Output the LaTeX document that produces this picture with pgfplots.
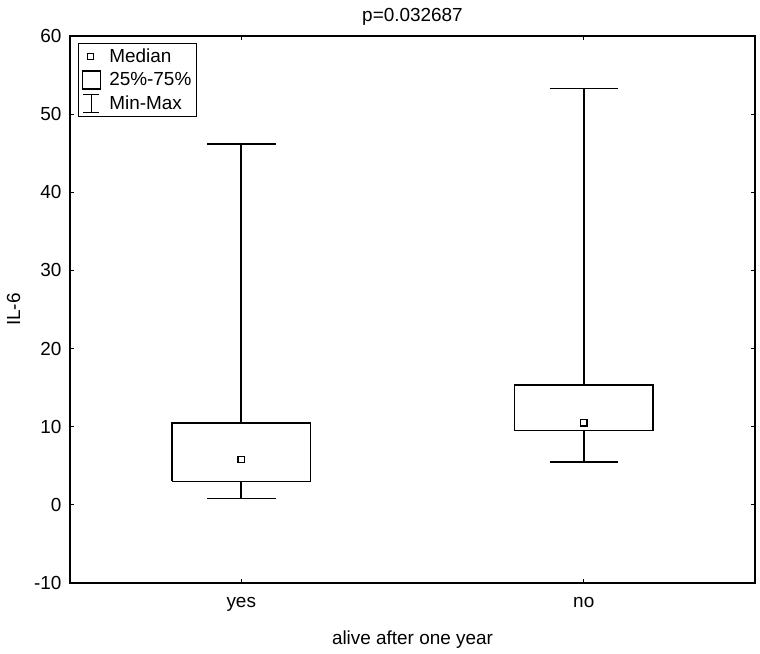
\documentclass[border=0pt]{standalone}
\usepackage{fontspec}
\setmainfont{Liberation Sans}
\usepackage{pgfplots}
\pgfplotsset{compat=1.18}

\newcommand{\fs}{\fontsize{19}{22}\selectfont}

\begin{document}
\begin{tikzpicture}
\path[use as bounding box] (-70bp,-71bp) rectangle (690bp,583bp);
\begin{axis}[
  at={(0,0)}, anchor=south west,
  scale only axis,
  width=685bp, height=547bp,
  xmin=0.5, xmax=2.5,
  ymin=-10, ymax=60,
  xtick={1,2}, xticklabels={yes,no},
  ytick={-10,0,10,20,30,40,50,60},
  tick align=inside,
  major tick length=4bp,
  tick style={black, line width=1.2bp},
  axis line style={black, line width=1.6bp},
  /pgf/number format/assume math mode=true,
  tick label style={font=\fs},
  label style={font=\fs},
  title style={font=\fs, yshift=1bp},
  title={p=0.032687},
  xlabel={alive after one year},
  ylabel={IL-6},
  xlabel style={yshift=-12bp},
  ylabel style={yshift=7bp},
  xticklabel style={yshift=-11bp},
  yticklabel style={xshift=-5bp},
  legend style={at={(rel axis cs:0,1)}, anchor=north west, xshift=8bp, yshift=-7bp,
    draw=black, line width=1.4bp, font=\fs, row sep=4.5bp, inner sep=3bp},
  legend cell align=left,
  every axis plot/.append style={black, line width=1.6bp},
]
\addlegendimage{legend image code/.code={\path (0bp,0bp) (24bp,0bp); \draw[black,line width=1.3bp] (5bp,-3bp) rectangle (11bp,3bp);}}
\addlegendentry{Median}
\addlegendimage{legend image code/.code={\path (0bp,0bp) (24bp,0bp); \draw[black,line width=1.3bp] (0bp,-9bp) rectangle (18bp,9bp);}}
\addlegendentry{25\%-75\%}
\addlegendimage{legend image code/.code={\path (0bp,0bp) (24bp,0bp); \draw[black,line width=1.3bp] (9bp,-9bp) -- (9bp,9bp) (1bp,9bp) -- (17bp,9bp) (1bp,-9bp) -- (17bp,-9bp);}}
\addlegendentry{Min-Max}

% yes: min 0.8, q1 3.0, median 5.8, q3 10.5, max 46.2
\addplot[forget plot] coordinates {(0.7975,3.0) (1.2025,3.0) (1.2025,10.5) (0.7975,10.5) (0.7975,3.0)};
\addplot[forget plot] coordinates {(1,10.5) (1,46.2)};
\addplot[forget plot] coordinates {(1,3.0) (1,0.8)};
\addplot[forget plot] coordinates {(0.9,46.2) (1.1,46.2)};
\addplot[forget plot] coordinates {(0.9,0.8) (1.1,0.8)};
% no: min 5.5, q1 9.5, median 10.5, q3 15.3, max 53.3
\addplot[forget plot] coordinates {(1.7975,9.5) (2.2025,9.5) (2.2025,15.3) (1.7975,15.3) (1.7975,9.5)};
\addplot[forget plot] coordinates {(2,15.3) (2,53.3)};
\addplot[forget plot] coordinates {(2,9.5) (2,5.5)};
\addplot[forget plot] coordinates {(1.9,53.3) (2.1,53.3)};
\addplot[forget plot] coordinates {(1.9,5.5) (2.1,5.5)};
% medians
\addplot[only marks, mark=square, mark size=3.2bp, line width=1.4bp, forget plot]
  coordinates {(1,5.8) (2,10.5)};
\end{axis}
\end{tikzpicture}
\end{document}
